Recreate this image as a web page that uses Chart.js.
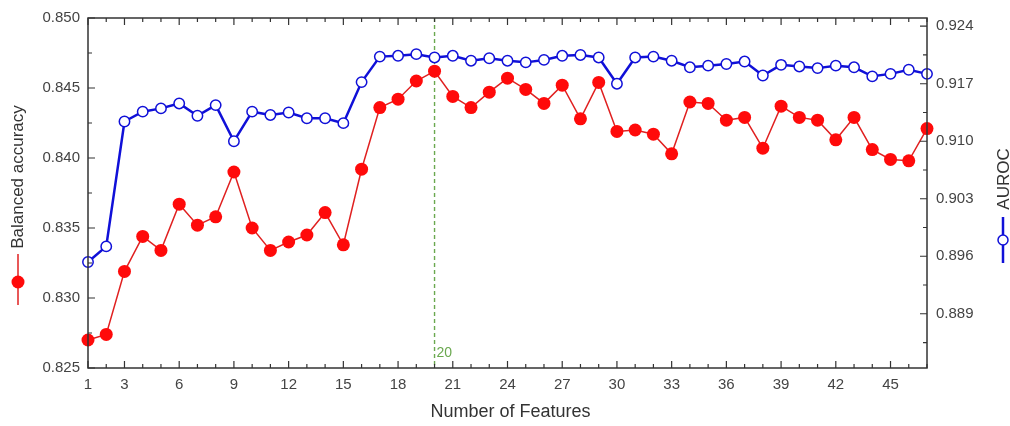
<!DOCTYPE html>
<html>
<head>
<meta charset="utf-8">
<script src="https://cdn.jsdelivr.net/npm/chart.js@4.4.1/dist/chart.umd.min.js"></script>
<style>
  html, body { margin: 0; padding: 0; background: #fff; }
  #wrap { width: 1010px; height: 426px; position: relative; }
</style>
</head>
<body>
<div id="wrap"><canvas id="c" width="1010" height="426"></canvas></div>
<script>
// ---- data ----
const features = [1,2,3,4,5,6,7,8,9,10,11,12,13,14,15,16,17,18,19,20,21,22,23,24,25,26,27,28,29,30,31,32,33,34,35,36,37,38,39,40,41,42,43,44,45,46,47];
const balancedAccuracy = [0.8270,0.8274,0.8319,0.8344,0.8334,0.8367,0.8352,0.8358,0.8390,0.8350,
  0.8334,0.8340,0.8345,0.8361,0.8338,0.8392,0.8436,0.8442,0.8455,0.8462,
  0.8444,0.8436,0.8447,0.8457,0.8449,0.8439,0.8452,0.8428,0.8454,0.8419,
  0.8420,0.8417,0.8403,0.8440,0.8439,0.8427,0.8429,0.8407,0.8437,0.8429,
  0.8427,0.8413,0.8429,0.8406,0.8399,0.8398,0.8421];
const auroc = [0.8953,0.8972,0.9124,0.9136,0.9140,0.9146,0.9131,0.9144,0.9100,0.9136,
  0.9132,0.9135,0.9128,0.9128,0.9122,0.9172,0.9203,0.9204,0.9206,0.9202,
  0.9204,0.9198,0.9201,0.9198,0.9196,0.9199,0.9204,0.9205,0.9202,0.9170,
  0.9202,0.9203,0.9198,0.9190,0.9192,0.9194,0.9197,0.9180,0.9193,0.9191,
  0.9189,0.9192,0.9190,0.9179,0.9182,0.9187,0.9182];
const xTickLabels = [1,3,6,9,12,15,18,21,24,27,30,33,36,39,42,45];
const leftTicks = [0.825,0.830,0.835,0.840,0.845,0.850];
const leftMinorTicks = [0.8275,0.8325,0.8375,0.8425,0.8475];
const rightTicks = [0.889,0.896,0.903,0.910,0.917,0.924];
const rightMinorTicks = [0.8855,0.8925,0.8995,0.9065,0.9135,0.9205];
const selectedFeatures = 20;

const FONT = "'Liberation Sans', Arial, sans-serif";
const RED = '#ff0a0a', RED_LINE = '#e02020', BLUE = '#1010d8';

const framePlugin = {
  id: 'frame',
  beforeDatasetsDraw(chart) {
    const {ctx, chartArea: a, scales} = chart;
    const x = scales.x.getPixelForValue(selectedFeatures);
    ctx.save();
    ctx.strokeStyle = '#6aa84f';
    ctx.lineWidth = 1.4;
    ctx.setLineDash([4, 3]);
    ctx.beginPath();
    ctx.moveTo(x, a.top); ctx.lineTo(x, a.bottom);
    ctx.stroke();
    ctx.setLineDash([]);
    ctx.fillStyle = '#6aa84f';
    ctx.font = '14px ' + FONT;
    ctx.textAlign = 'left'; ctx.textBaseline = 'middle';
    ctx.fillText(String(selectedFeatures), x + 2, a.bottom - 15);
    ctx.restore();
  },
  afterDraw(chart) {
    const {ctx, chartArea: a, scales} = chart;
    ctx.save();
    ctx.strokeStyle = '#333';
    ctx.lineWidth = 1.5;
    ctx.strokeRect(a.left, a.top, a.right - a.left, a.bottom - a.top);
    ctx.lineWidth = 1.2;
    ctx.beginPath();
    features.forEach(f => {
      const px = scales.x.getPixelForValue(f);
      const len = xTickLabels.includes(f) ? 7 : 4;
      ctx.moveTo(px, a.bottom); ctx.lineTo(px, a.bottom - len);
      ctx.moveTo(px, a.top); ctx.lineTo(px, a.top + len);
    });
    leftTicks.forEach(v => { const py = scales.y.getPixelForValue(v); ctx.moveTo(a.left, py); ctx.lineTo(a.left + 7, py); });
    leftMinorTicks.forEach(v => { const py = scales.y.getPixelForValue(v); ctx.moveTo(a.left, py); ctx.lineTo(a.left + 4, py); });
    rightTicks.forEach(v => { const py = scales.y2.getPixelForValue(v); ctx.moveTo(a.right, py); ctx.lineTo(a.right - 7, py); });
    rightMinorTicks.forEach(v => { const py = scales.y2.getPixelForValue(v); ctx.moveTo(a.right, py); ctx.lineTo(a.right - 4, py); });
    ctx.stroke();

    ctx.fillStyle = '#333';
    ctx.font = '18px ' + FONT;
    ctx.textAlign = 'center'; ctx.textBaseline = 'middle';
    ctx.fillText('Number of Features', (a.left + a.right) / 2 + 3, 412);

    ctx.font = '17px ' + FONT;
    ctx.save();
    ctx.translate(18, 177);
    ctx.rotate(-Math.PI / 2);
    ctx.fillText('Balanced accuracy', 0, 0);
    ctx.restore();
    ctx.strokeStyle = RED_LINE; ctx.lineWidth = 1.5;
    ctx.beginPath(); ctx.moveTo(18, 254); ctx.lineTo(18, 305); ctx.stroke();
    ctx.fillStyle = RED;
    ctx.beginPath(); ctx.arc(18, 282, 6.5, 0, Math.PI * 2); ctx.fill();

    ctx.fillStyle = '#333';
    ctx.save();
    ctx.translate(1004, 179);
    ctx.rotate(-Math.PI / 2);
    ctx.fillText('AUROC', 0, 0);
    ctx.restore();
    ctx.strokeStyle = BLUE; ctx.lineWidth = 2.5;
    ctx.beginPath(); ctx.moveTo(1003, 217); ctx.lineTo(1003, 263); ctx.stroke();
    ctx.fillStyle = '#fff'; ctx.lineWidth = 1.5;
    ctx.beginPath(); ctx.arc(1003, 240, 5, 0, Math.PI * 2); ctx.fill(); ctx.stroke();
    ctx.restore();
  }
};

const tickFont = { family: FONT, size: 15 };
new Chart(document.getElementById('c'), {
  type: 'line',
  data: {
    datasets: [
      {
        label: 'Balanced accuracy',
        data: features.map((f, i) => ({ x: f, y: balancedAccuracy[i] })),
        yAxisID: 'y', clip: false,
        borderColor: RED_LINE, borderWidth: 1.5,
        pointBackgroundColor: RED, pointBorderColor: RED,
        pointRadius: 6.5, pointBorderWidth: 0, tension: 0
      },
      {
        label: 'AUROC',
        data: features.map((f, i) => ({ x: f, y: auroc[i] })),
        yAxisID: 'y2', clip: false,
        borderColor: BLUE, borderWidth: 2.5,
        pointBackgroundColor: '#fff', pointBorderColor: BLUE,
        pointRadius: 5.2, pointBorderWidth: 1.5, tension: 0
      }
    ]
  },
  options: {
    responsive: false, animation: false,
    layout: { padding: { top: 14, left: 0, right: 0, bottom: 0 } },
    plugins: { legend: { display: false }, tooltip: { enabled: false } },
    scales: {
      x: {
        type: 'linear', min: 1, max: 47, position: 'bottom',
        grid: { display: false, drawTicks: false }, border: { display: false },
        afterBuildTicks: s => { s.ticks = xTickLabels.map(v => ({ value: v })); },
        afterFit: s => { s.height = 58; },
        ticks: { font: tickFont, color: '#444', padding: 8, maxRotation: 0, autoSkip: false }
      },
      y: {
        type: 'linear', min: 0.825, max: 0.850, position: 'left',
        grid: { display: false, drawTicks: false }, border: { display: false },
        afterBuildTicks: s => { s.ticks = leftTicks.map(v => ({ value: v })); },
        afterFit: s => { s.width = 88; },
        ticks: { font: tickFont, color: '#444', padding: 8, callback: v => v.toFixed(3) }
      },
      y2: {
        type: 'linear', min: 0.8824, max: 0.925, position: 'right',
        grid: { display: false, drawTicks: false }, border: { display: false },
        afterBuildTicks: s => { s.ticks = rightTicks.map(v => ({ value: v })); },
        afterFit: s => { s.width = 83; },
        ticks: { font: tickFont, color: '#444', padding: 9, callback: v => v.toFixed(3) }
      }
    }
  },
  plugins: [framePlugin]
});
</script>
</body>
</html>
